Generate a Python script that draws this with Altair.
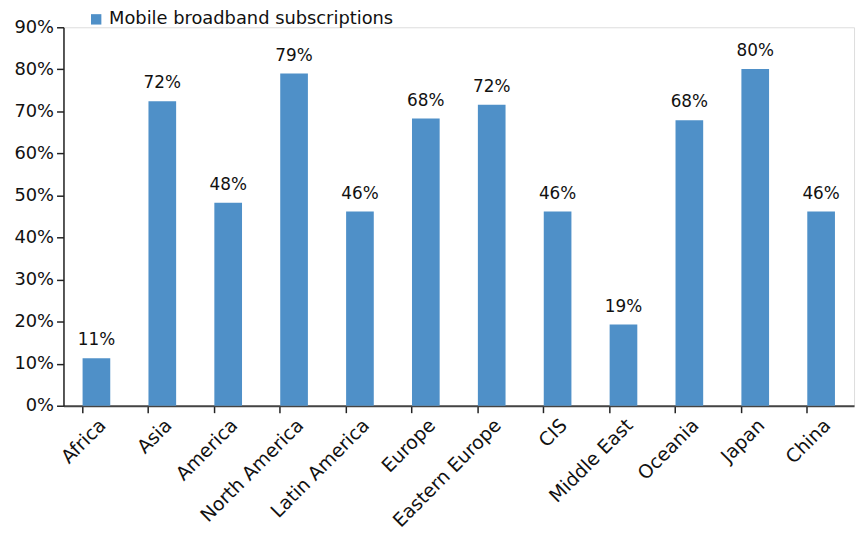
import altair as alt
import pandas as pd

regions = ["Africa", "Asia", "America", "North America", "Latin America", "Europe",
           "Eastern Europe", "CIS", "Middle East", "Oceania", "Japan", "China"]
values = [11.3, 72.4, 48.3, 79.0, 46.2, 68.3, 71.6, 46.2, 19.3, 67.9, 80.1, 46.2]
series = "Mobile broadband subscriptions"

df = pd.DataFrame({"region": regions, "value": [v / 100 for v in values], "series": series})

FONT = "DejaVu Sans"
BLUE = "#4f90c8"

x = alt.X("region:N", sort=regions, title=None,
          scale=alt.Scale(paddingInner=0.58, paddingOuter=0.29),
          axis=alt.Axis(labelAngle=-45, labelFontSize=19, labelFont=FONT, labelColor="#111",
                        bandPosition=0, tickSize=7, tickColor="#222", tickWidth=1.5,
                        domainColor="#444", domainWidth=2, labelPadding=3, grid=False,
                        labelLimit=0))

bars = alt.Chart(df).mark_bar(color=BLUE).encode(
    x=x,
    y=alt.Y("value:Q", title=None,
            scale=alt.Scale(domain=[0, 0.9], nice=False),
            axis=alt.Axis(format=".0%", values=[i / 10 for i in range(10)], labelFontSize=18,
                          labelFont=FONT, labelColor="#111", tickSize=7, tickColor="#222",
                          tickWidth=1.5, domainColor="#222", domainWidth=1.5, grid=False,
                          labelPadding=3)),
    color=alt.Color("series:N", scale=alt.Scale(range=[BLUE]), title=None,
                    legend=alt.Legend(orient="none", legendX=24, legendY=-17, symbolType="square",
                                      symbolSize=110, labelFontSize=18, labelFont=FONT,
                                      labelColor="#111", padding=0, symbolStrokeWidth=0,
                                      labelLimit=0)),
)

labels = alt.Chart(df).mark_text(baseline="bottom", dy=-9, fontSize=17, font=FONT, color="#111").encode(
    x=alt.X("region:N", sort=regions),
    y="value:Q",
    text=alt.Text("value:Q", format=".0%"),
)

chart = (bars + labels).properties(
    width=798, height=382,
    autosize=alt.AutoSizeParams(type="none"),
    padding={"left": 56, "top": 17, "right": 6, "bottom": 126},
).configure_view(stroke=None).configure(background="white")

chart.save("out.html", embed_options={"renderer": "svg", "actions": False})
